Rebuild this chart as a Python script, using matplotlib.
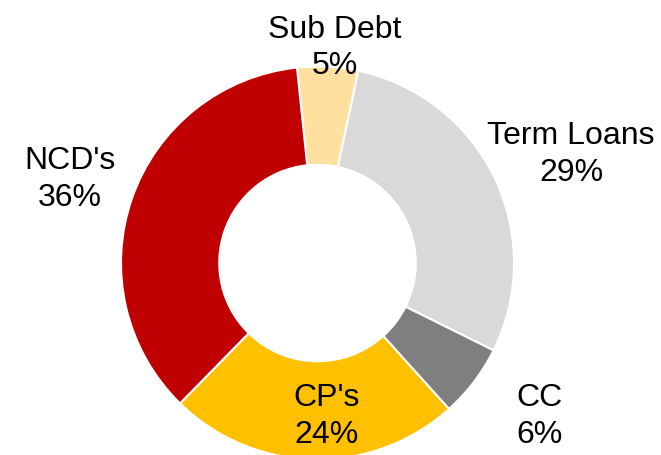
import matplotlib.pyplot as plt

# -----------------------------
# Data (clockwise from top)
# -----------------------------
labels = ["Sub Debt", "Term Loans", "CC", "CP's", "NCD's"]
shares = [5, 29, 6, 24, 36]
colors = ["#FFE09E", "#D9D9D9", "#7F7F7F", "#FFC000", "#C00000"]

# label anchor points, in pie radius units
label_pos = [(0.089, 1.10), (1.290, 0.558), (1.132, -0.775), (0.048, -0.775), (-1.260, 0.43)]

plt.rcParams['font.family'] = ['Liberation Sans', 'DejaVu Sans']

fig = plt.figure(figsize=(6.61, 4.56), dpi=100)
ax = fig.add_axes([0, 0, 1, 1])

ax.pie(shares, colors=colors, startangle=96, counterclock=False,
       radius=1.0, wedgeprops=dict(width=0.5, edgecolor="white", linewidth=1.5))

for name, val, (x, y) in zip(labels, shares, label_pos):
    ax.text(x, y, f"{name}\n{val}%", ha="center", va="center",
            fontsize=23, linespacing=1.29, color="black")

# pie centre at (317.5, 264) px, radius 196.5 px
ax.set_xlim(-317.5 / 196.5, (661 - 317.5) / 196.5)
ax.set_ylim(-(456 - 264) / 196.5, 264 / 196.5)
ax.set_aspect("auto")
ax.axis("off")

fig.savefig("out.png", dpi=100)
